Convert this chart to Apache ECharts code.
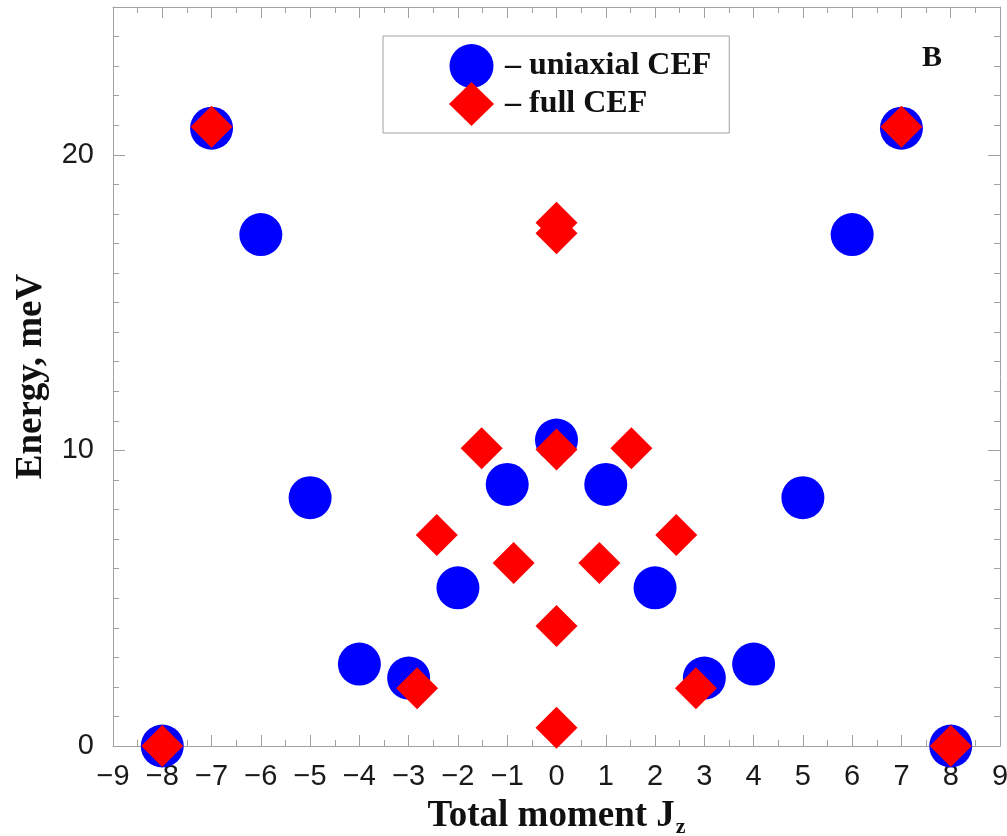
<!DOCTYPE html>
<html>
<head>
<meta charset="utf-8">
<script src="https://cdn.jsdelivr.net/npm/echarts@6/dist/echarts.min.js"></script>
<style>
  html, body { margin: 0; padding: 0; background: #fff; overflow: hidden; }
  #chart { width: 1007px; height: 836px; }
</style>
</head>
<body>
<div id="chart"></div>
<script>
// Energy levels vs total moment Jz
const uniaxialJz = [-8, -7, -6, -5, -4, -3, -2, -1, 0, 1, 2, 3, 4, 5, 6, 7, 8];
const uniaxialE  = [0, 20.9, 17.3, 8.4, 2.77, 2.3, 5.35, 8.85, 10.35, 8.85, 5.35, 2.3, 2.77, 8.4, 17.3, 20.9, 0];

const fullJz = [-8, 8, -7, 7, 0, 0, -1.52, 0, 1.52, -2.43, 2.43, -0.87, 0.87, 0, -2.83, 2.83, 0];
const fullE  = [0, 0, 20.95, 20.95, 17.7, 17.35, 10.07, 10.03, 10.07, 7.14, 7.14, 6.19, 6.19, 4.06, 1.95, 1.95, 0.62];

const xTicks = { min: -9, max: 9, step: 1 };
const yTicks = { min: 0, max: 25, step: 10 };

const pairs = (xs, ys) => xs.map((x, i) => [x, ys[i]]);

const FRAME = '#a0a0a0';
const SANS = '"Liberation Sans", Arial, Helvetica, sans-serif';
const SERIF = '"Liberation Serif", "Times New Roman", serif';

const baseX = (pos, withLabels) => ({
  type: 'value', position: pos, min: xTicks.min, max: xTicks.max, interval: xTicks.step,
  axisLine: { show: true, onZero: false, lineStyle: { color: FRAME, width: 1 } },
  axisTick: { show: true, inside: true, length: 11, lineStyle: { color: FRAME } },
  minorTick: { show: true, splitNumber: 2, length: 6, lineStyle: { color: FRAME } },
  splitLine: { show: false },
  axisLabel: withLabels ? {
    show: true, fontFamily: SANS, fontSize: 29, color: '#1a1a1a', margin: 16,
    formatter: v => String(v).replace('-', '\u2212')
  } : { show: false }
});

const baseY = (pos, step, tickLen, withLabels, showLine) => ({
  type: 'value', position: pos, min: yTicks.min, max: yTicks.max, interval: step,
  axisLine: { show: showLine, onZero: false, lineStyle: { color: FRAME, width: 1 } },
  axisTick: { show: true, inside: true, length: tickLen, lineStyle: { color: FRAME } },
  splitLine: { show: false },
  axisLabel: withLabels ? {
    show: true, fontFamily: SANS, fontSize: 29, color: '#1a1a1a', margin: 19,
    showMaxLabel: false,
    formatter: v => (v % 10 === 0 && v < yTicks.max) ? String(v) : ''
  } : { show: false }
});

const xBottom = baseX('bottom', true);
xBottom.name = '{m|Total moment J}{s|z}';
xBottom.nameLocation = 'middle';
xBottom.nameGap = 48;
xBottom.nameTextStyle = {
  rich: {
    m: { fontFamily: SERIF, fontWeight: 'bold', fontSize: 37, color: '#111' },
    s: { fontFamily: SERIF, fontWeight: 'bold', fontSize: 22, color: '#111', padding: [22, 0, 0, 1] }
  }
};

const yLeft = baseY('left', yTicks.step, 12, true, true);
yLeft.name = 'Energy, meV';
yLeft.nameLocation = 'middle';
yLeft.nameGap = 63;
yLeft.nameTextStyle = { fontFamily: SERIF, fontWeight: 'bold', fontSize: 37, color: '#111' };

const chart = echarts.init(document.getElementById('chart'), null, { renderer: 'canvas' });
chart.setOption({
  animation: false,
  backgroundColor: '#fff',
  grid: { left: 113, right: 7, top: 7, bottom: 90, containLabel: false, outerBoundsMode: 'none' },
  title: {
    text: 'B', left: 917, top: 38,
    textStyle: { fontFamily: SERIF, fontWeight: 'bold', fontSize: 30, color: '#111' }
  },
  legend: {
    left: 383, top: 36, orient: 'vertical',
    selectedMode: false,
    itemWidth: 45, itemHeight: 44, itemGap: -6,
    padding: [8, 18, 7, 66],
    borderColor: FRAME, borderWidth: 1,
    formatter: n => '\u2013 ' + n,
    textStyle: { fontFamily: SERIF, fontWeight: 'bold', fontSize: 32, color: '#111', padding: [0, 0, 0, 6] },
    data: ['uniaxial CEF', 'full CEF']
  },
  xAxis: [xBottom, baseX('top', false)],
  yAxis: [
    yLeft,
    baseY('left', 1, 6, false, false),
    baseY('right', yTicks.step, 12, false, true),
    baseY('right', 1, 6, false, false)
  ],
  series: [
    {
      name: 'uniaxial CEF', type: 'scatter', xAxisIndex: 0, yAxisIndex: 0,
      symbol: 'circle', symbolSize: 43,
      itemStyle: { color: '#0000ff', opacity: 1 },
      data: pairs(uniaxialJz, uniaxialE), z: 2
    },
    {
      name: 'full CEF', type: 'scatter', xAxisIndex: 0, yAxisIndex: 0,
      symbol: 'diamond', symbolSize: 42,
      itemStyle: { color: '#ff0000', opacity: 1 },
      data: pairs(fullJz, fullE), z: 3
    }
  ]
});
</script>
</body>
</html>
